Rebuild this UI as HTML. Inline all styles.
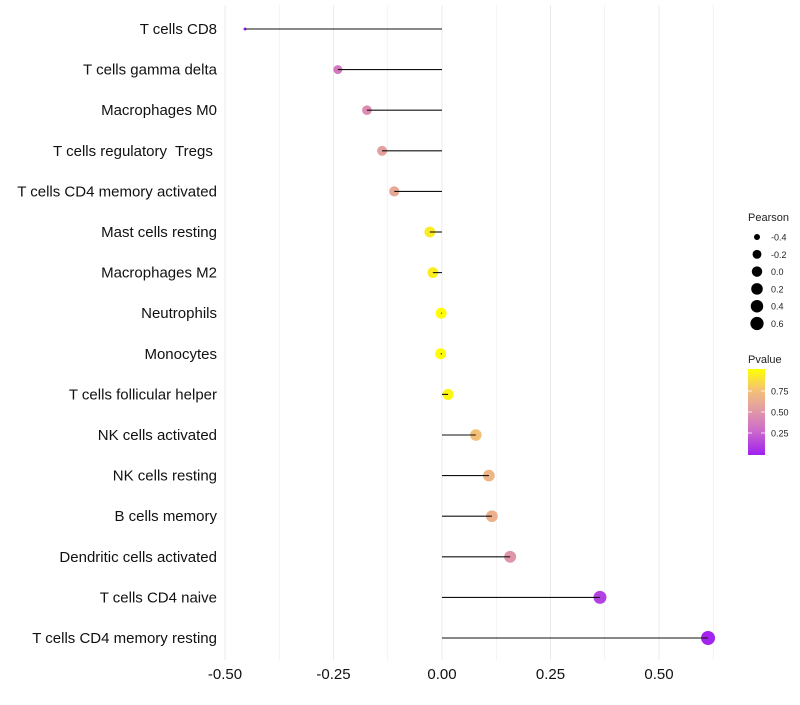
<!DOCTYPE html>
<html><head><meta charset="utf-8"><style>
body{margin:0;background:#fff;font-family:"Liberation Sans",sans-serif;}
svg text{font-family:"Liberation Sans",sans-serif;white-space:pre;}
</style></head><body>
<svg id="chart" width="800" height="700">
<defs><linearGradient id="pg" x1="0" y1="1" x2="0" y2="0">
<stop offset="0" stop-color="#a020f0"/><stop offset="0.3" stop-color="#cf6fc8"/><stop offset="0.55" stop-color="#e3a0a0"/><stop offset="0.75" stop-color="#f4c078"/><stop offset="1" stop-color="#ffff00"/></linearGradient></defs>
<g id="grid"></g>
<g id="marks"></g>
<g id="ylab"></g>
<g id="xlab"></g>
<g id="sizeLeg">
<text x="748" y="221" font-size="11" fill="#222">Pearson</text>
</g>
<g>
<text x="748" y="363" font-size="11" fill="#222">Pvalue</text>
<rect x="748" y="369" width="17" height="86" fill="url(#pg)"/>
<g id="cbTicks"></g>
</g>
</svg>
<script>
const categories=["T cells CD8","T cells gamma delta","Macrophages M0","T cells regulatory  Tregs ","T cells CD4 memory activated","Mast cells resting","Macrophages M2","Neutrophils","Monocytes","T cells follicular helper","NK cells activated","NK cells resting","B cells memory","Dendritic cells activated","T cells CD4 naive","T cells CD4 memory resting"];
const pearson=[-0.454,-0.24,-0.173,-0.138,-0.11,-0.028,-0.021,-0.002,-0.003,0.014,0.078,0.108,0.115,0.157,0.364,0.613];
const pvalues=[0.02,0.35,0.45,0.55,0.6,0.92,0.93,0.99,0.99,0.96,0.75,0.68,0.65,0.5,0.12,0.02];
const xTicks=[-0.5,-0.25,0,0.25,0.5];
const xTickLabels=["-0.50","-0.25","0.00","0.25","0.50"];
const sizeLegendVals=[-0.4,-0.2,0.0,0.2,0.4,0.6];
const sizeLegendLabels=["-0.4","-0.2","0.0","0.2","0.4","0.6"];
const cbVals=[0.25,0.5,0.75];
const cbLabels=["0.25","0.50","0.75"];
const NS="http://www.w3.org/2000/svg";
const X=v=>442+v*434;
const Y=i=>29+i*40.6;
const R=v=>{const f=Math.max(0,(v+0.454)/1.067);return Math.sqrt(2.25+Math.pow(f,0.6)*46.75);};
const stops=[[0,[160,32,240]],[0.3,[207,111,200]],[0.55,[227,160,160]],[0.75,[244,192,120]],[1,[255,255,0]]];
function col(p){for(let k=1;k<stops.length;k++){if(p<=stops[k][0]){const a=stops[k-1],b=stops[k],t=(p-a[0])/(b[0]-a[0]);return "rgb("+a[1].map((c,j)=>Math.round(c+(b[1][j]-c)*t)).join(",")+")";}}return "rgb(255,255,0)";}
function mk(tag,at,par){const e=document.createElementNS(NS,tag);for(const k in at)e.setAttribute(k,at[k]);par.appendChild(e);return e;}
const grid=document.getElementById('grid');
for(let v=-0.5;v<=0.63;v+=0.125){const l=mk('line',{x1:X(v),x2:X(v),y1:5,y2:660,stroke:'#ebebeb','stroke-width':Math.abs(v*4-Math.round(v*4))<1e-6?1:0.6},grid);

}
const marks=document.getElementById('marks'),ylab=document.getElementById('ylab');
categories.forEach((c,i)=>{
const p=mk('circle',{cx:X(pearson[i]),cy:Y(i),r:R(pearson[i]),fill:col(pvalues[i])},marks);


const s=mk('line',{x1:X(0),x2:X(pearson[i]),y1:Y(i),y2:Y(i),stroke:'#111','stroke-width':1.1},marks);


const t=mk('text',{x:217,y:Y(i)+5,'text-anchor':'end','font-size':15,fill:'#111'},ylab);t.textContent=c;


});
const xlab=document.getElementById('xlab');
xTicks.forEach((v,i)=>{const t=mk('text',{x:X(v),y:679,'text-anchor':'middle','font-size':15,fill:'#111'},xlab);t.textContent=xTickLabels[i];

});
const sl=document.getElementById('sizeLeg');
sizeLegendVals.forEach((v,i)=>{const y=237+i*17.3;
const c=mk('circle',{cx:757,cy:y,r:R(v)*0.95,fill:'#000'},sl);


const t=mk('text',{x:771,y:y+3.5,'font-size':9,fill:'#222'},sl);t.textContent=sizeLegendLabels[i];

});
const cb=document.getElementById('cbTicks');
cbVals.forEach((v,i)=>{const y=454-v*84;
mk('line',{x1:748,x2:752,y1:y,y2:y,stroke:'#fff','stroke-width':0.8},cb);
mk('line',{x1:761,x2:765,y1:y,y2:y,stroke:'#fff','stroke-width':0.8},cb);
const t=mk('text',{x:771,y:y+3.5,'font-size':9,fill:'#222'},cb);t.textContent=cbLabels[i];

});
</script>
</body></html>
